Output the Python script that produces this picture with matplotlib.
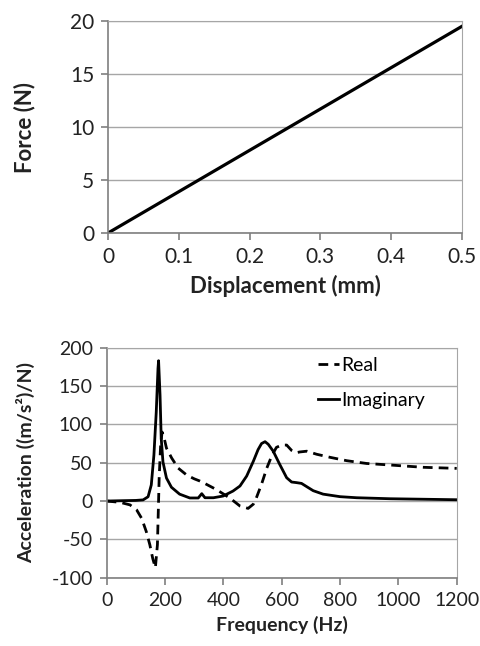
import matplotlib
matplotlib.use('Agg')
import matplotlib.pyplot as plt
import numpy as np

plt.rcParams['font.family'] = ['Lato', 'DejaVu Sans']
plt.rcParams['axes.unicode_minus'] = False

# top chart: force vs displacement
disp = [0, 0.1, 0.2, 0.3, 0.4, 0.5]
force = [0, 3.9, 7.8, 11.7, 15.6, 19.5]

# bottom chart: accelerance FRF
freq_re = [0, 46, 80, 103, 120, 136, 148, 158, 167, 174, 177, 180, 185, 190, 196, 205,
           223, 245, 274, 300, 320, 331, 376, 422, 457, 485, 503, 513, 531, 549, 566,
           582, 600, 617, 634, 649, 662, 686, 720, 766, 823, 891, 971, 1085, 1200]
real = [0, -1.7, -5, -11.7, -22.6, -40, -57, -75, -87, -57, -14, 30, 73, 90, 84, 69,
        56, 43, 34, 29, 26, 24, 15, 4, -6.5, -9.6, -4, 4, 22, 43, 59,
        70, 73, 73, 66, 63, 64, 65, 61, 57, 52.6, 49, 47, 44, 42.6]

freq_im = [0, 60, 100, 125, 142, 153, 162, 170, 176, 178, 183, 187, 193, 205, 222, 250,
           285, 314, 326, 337, 366, 399, 433, 457, 480, 503, 519, 531, 543, 554, 571,
           593, 617, 634, 651, 668, 686, 708, 742, 800, 857, 971, 1200]
imag = [0, 0.5, 0.8, 1.5, 5.6, 21, 60, 116, 173, 183, 138, 82, 51, 30, 18, 9,
        4, 4, 9.6, 4.3, 4.3, 6.5, 13, 19.6, 32.6, 52, 67, 75, 77.4, 74, 65,
        48, 30.4, 24.8, 24, 23, 18.7, 13.5, 9, 5.7, 4.3, 3, 1.7]

grid_c = '#a6a6a6'
axis_c = '#7f7f7f'

fig = plt.figure(figsize=(4.8, 6.46), dpi=100)

def style(ax, size):
    ax.yaxis.grid(True, color=grid_c, linewidth=1.0)
    ax.set_axisbelow(True)
    for s in ['top', 'right']:
        ax.spines[s].set_color(grid_c)
    for s in ['left', 'bottom']:
        ax.spines[s].set_color(axis_c)
        ax.spines[s].set_linewidth(1.2)
    ax.tick_params(axis='both', direction='out', length=5, width=1.2, color=axis_c,
                   labelsize=size, labelcolor='#222222', pad=5)

ax1 = fig.add_axes([0.225, 0.6393, 0.7375, 0.3282])
ax1.plot(disp, force, color='black', linewidth=2.3)
ax1.set_xlim(0, 0.5)
ax1.set_ylim(0, 20)
ax1.set_xticks([0, 0.1, 0.2, 0.3, 0.4, 0.5])
ax1.set_xticklabels(['0', '0.1', '0.2', '0.3', '0.4', '0.5'])
ax1.set_yticks([0, 5, 10, 15, 20])
style(ax1, 15)
ax1.set_xlabel('Displacement (mm)', fontsize=16, fontweight='bold', labelpad=6, color='#222222')
ax1.set_ylabel('Force (N)', fontsize=16, fontweight='bold', labelpad=25, color='#222222')

ax2 = fig.add_axes([0.2222, 0.1057, 0.7293, 0.3561])
ax2.plot(freq_re, real, color='black', linewidth=2.0, linestyle=(0, (3.5, 2.2)), label='Real')
ax2.plot(freq_im, imag, color='black', linewidth=2.0, label='Imaginary')
ax2.set_xlim(0, 1200)
ax2.set_ylim(-100, 200)
ax2.set_xticks(np.arange(0, 1201, 200))
ax2.set_yticks(np.arange(-100, 201, 50))
style(ax2, 14)
ax2.set_xlabel('Frequency (Hz)', fontsize=14, fontweight='bold', labelpad=5, color='#222222')
ax2.set_ylabel('Acceleration ((m/s²)/N)', fontsize=14, fontweight='bold', labelpad=12, color='#222222')
ax2.legend(loc='upper left', bbox_to_anchor=(0.57, 1.01), frameon=False, fontsize=14,
           handlelength=1.1, handletextpad=0.1, labelspacing=0.9, borderaxespad=0.2)

fig.savefig('out.png', dpi=100)
